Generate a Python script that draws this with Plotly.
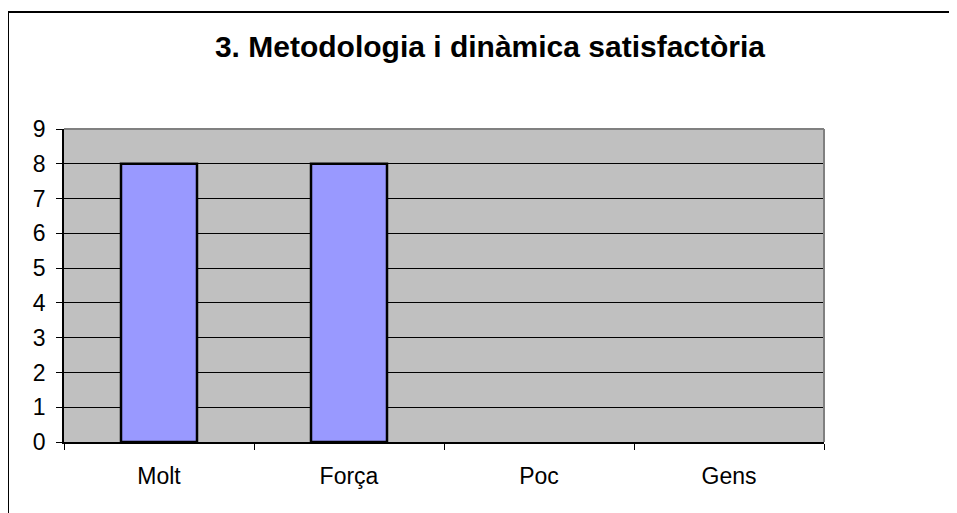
import plotly.graph_objects as go

categories = ["Molt", "Força", "Poc", "Gens"]
values = [8, 8, 0, 0]
y_ticks = list(range(0, 10))

OFF = 8  # default page body margin
W, H = 957 - OFF, 513 - OFF
# plot area in absolute window pixels
L, R, T, B = 64, 824, 129, 442

def px_x(p):
    return (p - L) / (R - L)

def px_y(p):
    return (B - p) / (B - T)

fig = go.Figure()
fig.add_trace(go.Bar(
    x=categories, y=values, width=0.4,
    marker=dict(color="#9999FF",
                line=dict(color="black", width=[2.5 if v else 0 for v in values])),
    hoverinfo="x+y",
))

fig.update_layout(
    width=W, height=H,
    margin=dict(l=L - OFF, r=(W + OFF) - R, t=T - OFF, b=(H + OFF) - B, autoexpand=False),
    paper_bgcolor="white",
    plot_bgcolor="#C0C0C0",
    font=dict(family="Liberation Sans, Arial, sans-serif", color="black", size=23),
    showlegend=False,
    title=dict(
        text="<b>3. Metodologia i dinàmica satisfactòria</b>",
        font=dict(size=30, family="Liberation Sans, Arial, sans-serif", color="black"),
        x=(490 - OFF) / W, xanchor="center", xref="container",
        y=1 - (46 - OFF) / H, yanchor="middle", yref="container",
    ),
    xaxis=dict(
        type="category", tickson="boundaries",
        ticks="outside", ticklen=6, tickcolor="black", tickwidth=1,
        showline=True, linecolor="black", linewidth=1.5,
        showgrid=False, zeroline=False,
        ticklabelstandoff=13,
        tickfont=dict(size=23),
        fixedrange=True,
    ),
    yaxis=dict(
        range=[0, 9], tickvals=y_ticks, ticktext=[str(v) for v in y_ticks],
        ticks="outside", ticklen=6, tickcolor="black", tickwidth=1,
        showline=True, linecolor="black", linewidth=1.5,
        showgrid=True, gridcolor="black", gridwidth=1,
        zeroline=False,
        ticklabelstandoff=6,
        tickfont=dict(size=23),
        fixedrange=True,
    ),
    shapes=[
        # plot area border top and right (gray)
        dict(type="line", xref="paper", yref="paper", x0=0, x1=1, y0=1, y1=1,
             line=dict(color="#808080", width=2), layer="above"),
        dict(type="line", xref="paper", yref="paper", x0=1, x1=1, y0=0, y1=1,
             line=dict(color="#808080", width=2), layer="above"),
        # outer chart border (top and left visible)
        dict(type="line", xref="paper", yref="paper", x0=px_x(8), x1=px_x(980),
             y0=px_y(12), y1=px_y(12), line=dict(color="black", width=2), layer="above"),
        dict(type="line", xref="paper", yref="paper", x0=px_x(8), x1=px_x(8),
             y0=px_y(12), y1=px_y(540), line=dict(color="black", width=2), layer="above"),
    ],
)

fig.write_html("out.html")
